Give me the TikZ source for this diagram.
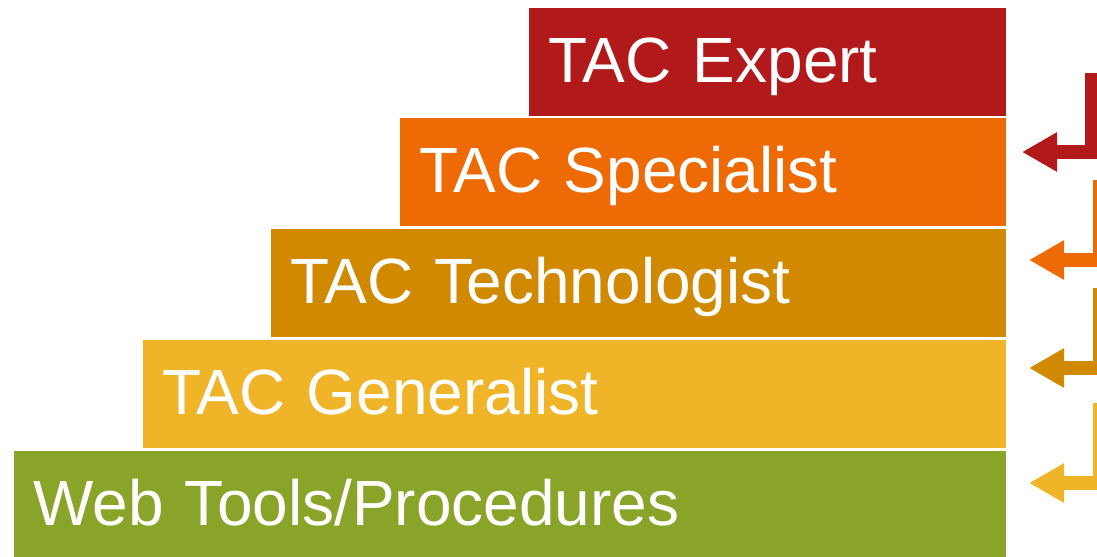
\documentclass[tikz,border=0pt]{standalone}
\usepackage{fontspec}
\setmainfont{Liberation Sans}
\usetikzlibrary{arrows.meta}
\definecolor{expertred}{HTML}{B2191B}
\definecolor{specorange}{HTML}{EE6A05}
\definecolor{techorange}{HTML}{D08900}
\definecolor{genyellow}{HTML}{F0B428}
\definecolor{webgreen}{HTML}{8AA42A}
\tikzset{
  level/.style={anchor=north west,text width=#1,align=left,inner xsep=0.38cm,inner ysep=0pt,
    minimum height=2.16cm,text height=0.92cm,text depth=0.1cm,text=white,
    font=\fontsize{36.4}{40}\selectfont},
  climb/.style={draw=#1,line width=0.27cm,-{Triangle[length=0.7cm,width=0.74cm]}}
}
\begin{document}
\begin{tikzpicture}[x=0.02cm,y=-0.02cm]
		\clip (0,0) rectangle (1097,556);
		%steps
		\node[level=8.78cm,fill=expertred](expert) at (529,8) {TAC Expert};
		\node[level=11.36cm,fill=specorange](specialist) at (400,118) {TAC Specialist};
		\node[level=13.94cm,fill=techorange](technologist) at (271,229) {TAC Technologist};
		\node[level=16.50cm,fill=genyellow](generalist) at (143,340) {TAC Generalist};
		\node[level=19.08cm,fill=webgreen](webtools) at (14,451) {Web Tools/Procedures};
		%arrows
		\coordinate (expertfrom) at (1092,73);
		\coordinate (expertto) at (1022,152);
		\coordinate (specfrom) at (1100,180);
		\coordinate (specto) at (1029,260);
		\coordinate (techfrom) at (1100,288);
		\coordinate (techto) at (1029,368);
		\coordinate (genfrom) at (1100,403);
		\coordinate (gento) at (1029,483);
		\draw[climb=expertred] (expertfrom) |- (expertto);
		\draw[climb=specorange] (specfrom) |- (specto);
		\draw[climb=techorange] (techfrom) |- (techto);
		\draw[climb=genyellow] (genfrom) |- (gento);
\end{tikzpicture}
\end{document}
